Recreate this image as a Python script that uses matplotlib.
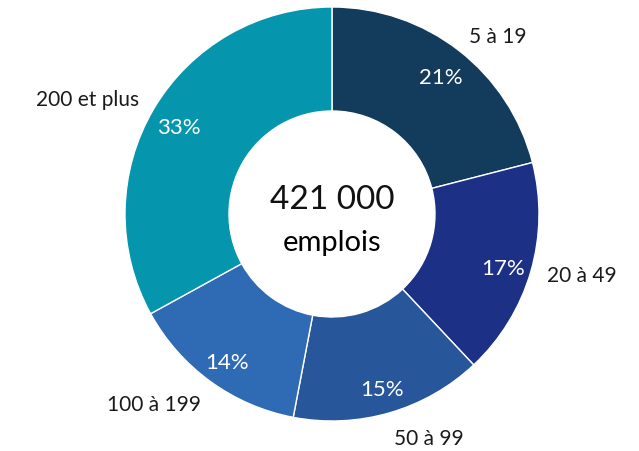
import matplotlib
matplotlib.use('Agg')
import matplotlib.pyplot as plt

categories = ['5 à 19', '20 à 49', '50 à 99', '100 à 199', '200 et plus']
shares = [21, 17, 15, 14, 33]
colors = ['#133c5c', '#1c3185', '#27569a', '#2f6bb5', '#0596ae']
total_label = '421 000'
unit_label = 'emplois'

plt.rcParams['font.family'] = ['Lato', 'DejaVu Sans']

cx, cy = 332, 237

fig = plt.figure(figsize=(6.39, 4.51), dpi=100)
ax = fig.add_axes([0, 0, 1, 1])

wedges, texts, autotexts = ax.pie(
    shares, labels=categories, colors=colors, startangle=90, counterclock=False,
    center=(cx, cy), radius=207, frame=True,
    autopct='%d%%', pctdistance=0.86, labeldistance=1.08,
    wedgeprops=dict(width=104, edgecolor='white', linewidth=1),
    textprops=dict(fontsize=15, color='#1a1a1a'))
for t in texts:
    x, y = t.get_position()
    t.set_ha('left' if x > cx else 'right')
    if y < cy - 180:
        t.set_va('top')
for t in autotexts:
    t.set_color('white')
    t.set_fontsize(16)
    x, y = t.get_position()
    t.set_position((x, y - 5))
ax.set_xlim(0, 639)
ax.set_ylim(0, 451)
ax.set_aspect('equal')
ax.axis('off')

ax.text(cx, 251, total_label, ha='center', va='center', fontsize=24, color='#111111')
ax.text(cx, 208, unit_label, ha='center', va='center', fontsize=21, color='#000000')

fig.savefig('out.png', dpi=100)
